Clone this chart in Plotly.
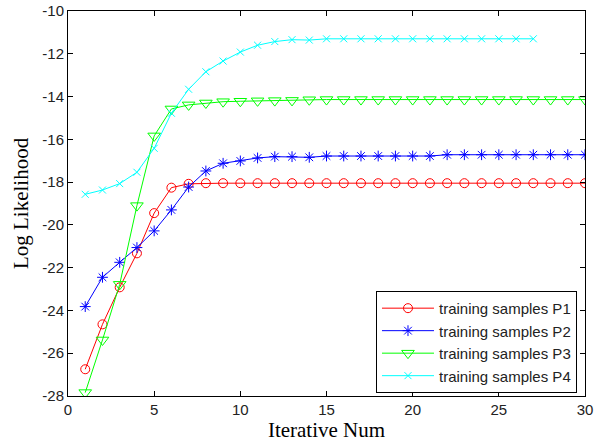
import plotly.graph_objects as go

iters_30 = list(range(1, 31))
iters_27 = list(range(1, 28))

p1 = [-26.75, -24.65, -22.92, -21.33, -19.45, -18.26, -18.08, -18.05, -18.05, -18.05,
      -18.05, -18.05, -18.05, -18.05, -18.05, -18.05, -18.05, -18.05, -18.05, -18.05,
      -18.05, -18.05, -18.05, -18.05, -18.05, -18.05, -18.05, -18.05, -18.05, -18.05]
p2 = [-23.82, -22.45, -21.75, -21.06, -20.28, -19.30, -18.23, -17.48, -17.12, -17.01,
      -16.87, -16.81, -16.81, -16.84, -16.78, -16.78, -16.78, -16.78, -16.78, -16.78,
      -16.78, -16.72, -16.72, -16.72, -16.72, -16.72, -16.72, -16.72, -16.72, -16.72]
p3 = [-27.84, -25.38, -22.78, -19.10, -15.84, -14.58, -14.39, -14.30, -14.24, -14.22,
      -14.20, -14.19, -14.18, -14.15, -14.14, -14.14, -14.14, -14.14, -14.14, -14.14,
      -14.14, -14.14, -14.14, -14.14, -14.14, -14.14, -14.14, -14.14, -14.14, -14.14]
p4 = [-18.57, -18.37, -18.07, -17.54, -16.42, -14.78, -13.66, -12.84, -12.34, -11.92,
      -11.60, -11.43, -11.34, -11.36, -11.30, -11.30, -11.30, -11.30, -11.30, -11.30,
      -11.30, -11.30, -11.30, -11.30, -11.30, -11.30, -11.30]

x_ticks = [0, 5, 10, 15, 20, 25, 30]
y_ticks = [-28, -26, -24, -22, -20, -18, -16, -14, -12, -10]
y_ticktext = ["-28", "-26", "-24", "-22", "-20", "-18", "-16", "-14", "-12", "-10"]

names = ["training samples P1", "training samples P2", "training samples P3", "training samples P4"]
colors = ["#ff0000", "#0000ff", "#00ff00", "#00ffff"]
symbols = ["circle-open", "asterisk-open", "triangle-down-open", "x-thin-open"]
sizes = [9, 9, 11, 7]
xs = [iters_30, iters_30, iters_30, iters_27]
ys = [p1, p2, p3, p4]

fig = go.Figure()
for x, y, n, c, s, sz in zip(xs, ys, names, colors, symbols, sizes):
    fig.add_trace(go.Scatter(
        x=x, y=y, name=n, mode="lines+markers",
        line=dict(color=c, width=1),
        marker=dict(symbol=s, size=sz, color=c, line=dict(color=c, width=1)),
    ))

axis_common = dict(
    showgrid=False, zeroline=False, showline=True, linecolor="black", linewidth=1,
    mirror="ticks", ticks="inside", ticklen=5, tickcolor="black", automargin=False,
    tickfont=dict(family="Liberation Sans, Arial", size=15, color="#222222"),
)
title_font = dict(family="Liberation Serif, Times New Roman", size=21, color="black")
fig.update_xaxes(range=[0, 30], tickvals=x_ticks,
                 title=dict(text="Iterative Num", font=title_font, standoff=1),
                 **axis_common)
fig.update_yaxes(range=[-28, -10], tickvals=y_ticks, ticktext=y_ticktext,
                 title=dict(text="Log Likelihood", font=title_font, standoff=7),
                 **axis_common)

fig.update_layout(
    width=598, height=443,
    margin=dict(l=68, r=13, t=11, b=47),
    paper_bgcolor="white", plot_bgcolor="white",
    legend=dict(x=0.9845, y=0.008, xanchor="right", yanchor="bottom",
                bordercolor="black", borderwidth=1, bgcolor="white",
                font=dict(family="Liberation Sans, Arial", size=15, color="#222222"),
                tracegroupgap=0, itemwidth=52),
    showlegend=True,
)

fig.write_html("out.html", config={"displayModeBar": False},
               post_script="document.body.style.margin='0';")
